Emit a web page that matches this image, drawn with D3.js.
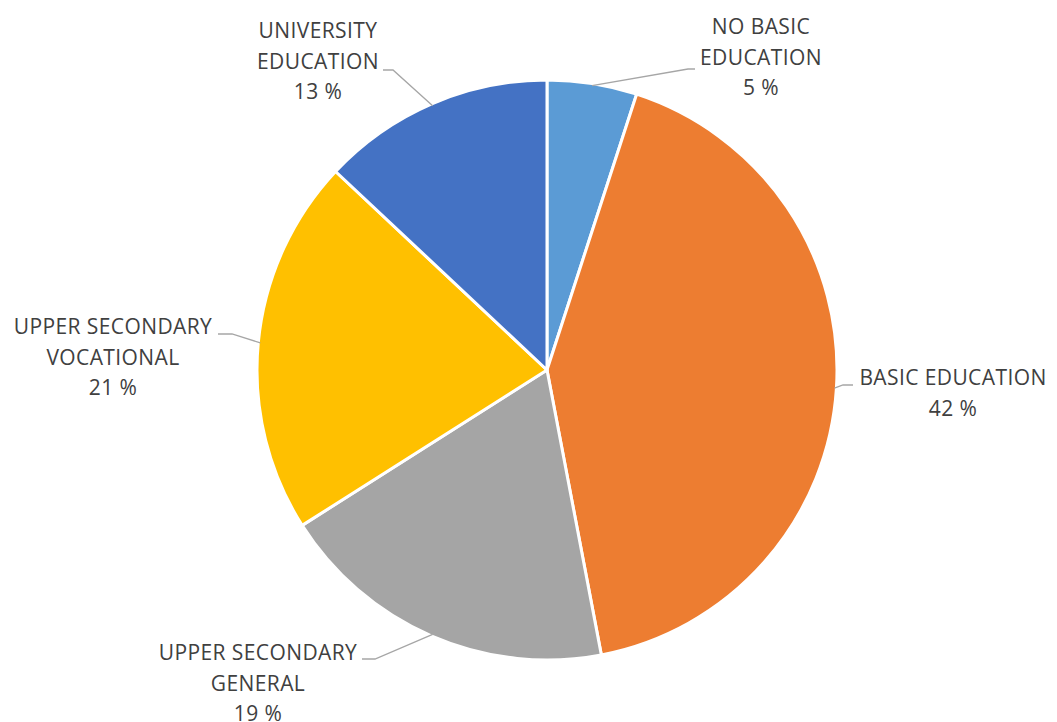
<!DOCTYPE html>
<html>
<head>
<meta charset="utf-8">
<script src="https://cdn.jsdelivr.net/npm/d3@7"></script>
<style>
  body { margin: 0; background: #fff; }
  text { font-family: "Open Sans", "Noto Sans", sans-serif; fill: #404040; }
</style>
</head>
<body>
<div class="viz"></div>
<script>
const w = 1057;
const h = 722;

// data
const categories = ["NO BASIC EDUCATION", "BASIC EDUCATION", "UPPER SECONDARY GENERAL", "UPPER SECONDARY VOCATIONAL", "UNIVERSITY EDUCATION"];
const shares = [5, 42, 19, 21, 13];
const labelLines = [
    ["NO BASIC", "EDUCATION", "5 %"],
    ["BASIC EDUCATION", "42 %"],
    ["UPPER SECONDARY", "GENERAL", "19 %"],
    ["UPPER SECONDARY", "VOCATIONAL", "21 %"],
    ["UNIVERSITY", "EDUCATION", "13 %"]
];

const colors = ["#5B9BD5", "#ED7D31", "#A5A5A5", "#FFC000", "#4472C4"];

// label block centre x / first baseline y, and leader line end near the label
const labelLayout = [
    {x: 761, y: 34, leader: [[695, 69], [688, 69]]},
    {x: 953, y: 385, leader: [[853, 385], [843, 385]]},
    {x: 258, y: 660, leader: [[362, 659], [375, 659]]},
    {x: 113, y: 334, leader: [[218, 334], [232, 334]]},
    {x: 318, y: 38, leader: [[383, 70], [393, 70]]}
];

const cx = 547, cy = 370, r = 290;

const svg = d3.select(".viz")
    .append("svg")
    .attr("width", w)
    .attr("height", h);

const pie = d3.pie().sort(null).value(d => d);
const arcs = pie(shares);

const arc = d3.arc().innerRadius(0).outerRadius(r);

const g = svg.append("g").attr("transform", `translate(${cx},${cy})`);

g.selectAll("path")
    .data(arcs)
    .enter()
    .append("path")
    .attr("d", arc)
    .style("fill", (d, i) => colors[i])
    .style("stroke", "#fff")
    .style("stroke-width", 3)
    .style("stroke-linejoin", "round");

// leader lines: from pie edge at slice mid angle to label
arcs.forEach(function (d, i) {
    const mid = (d.startAngle + d.endAngle) / 2;
    const p = [cx + Math.sin(mid) * (r - 2), cy - Math.cos(mid) * (r - 2)];
    const pts = [labelLayout[i].leader[0], labelLayout[i].leader[1], p];
    svg.append("path")
        .attr("d", d3.line()(pts))
        .style("fill", "none")
        .style("stroke", "#A6A6A6")
        .style("stroke-width", 1.3);
});

labelLines.forEach(function (lines, i) {
    const t = svg.append("text")
        .attr("text-anchor", "middle")
        .style("font-size", "21px")
        .style("letter-spacing", "0.4px");
    lines.forEach(function (line, j) {
        t.append("tspan")
            .attr("x", labelLayout[i].x)
            .attr("y", labelLayout[i].y + j * 30.5)
            .text(line);
    });
});
</script>
</body>
</html>
